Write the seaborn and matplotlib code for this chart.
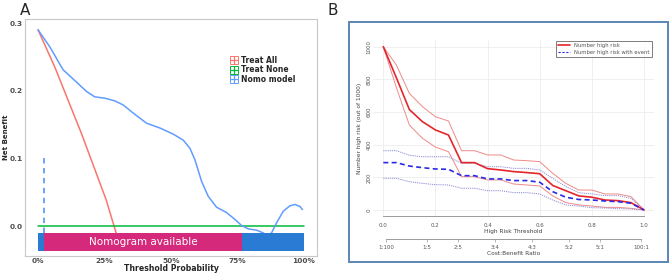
import numpy as np
import pandas as pd
import matplotlib
matplotlib.use("Agg")
import matplotlib.pyplot as plt
from matplotlib.lines import Line2D
from matplotlib.patches import Rectangle
import seaborn as sns

sns.set_style("white")
plt.rcParams["font.family"] = ["DejaVu Sans"]

# ---- Panel A: decision curve ----
nomo_x = [0, 4.4, 9.4, 14.4, 18.2, 21.3, 25.1, 28.9, 32, 35.8, 40.8, 45.8, 50.8,
          54.6, 57.1, 59, 61.5, 64, 67.1, 70.9, 74, 76.5, 79, 82.2, 84.7, 86,
          87.8, 89.7, 92.2, 94.7, 96.6, 98.5, 99.4]
nomo_y = [0.290, 0.265, 0.231, 0.213, 0.199, 0.191, 0.189, 0.185, 0.179, 0.167,
          0.152, 0.145, 0.136, 0.127, 0.115, 0.098, 0.066, 0.044, 0.028, 0.020,
          0.010, 0.001, -0.004, -0.006, -0.010, -0.014, -0.010, 0.005, 0.022,
          0.030, 0.032, 0.029, 0.0245]
all_x = [0, 6.3, 16.3, 25.6, 29.2, 29.6]
all_y = [0.290, 0.235, 0.137, 0.039, -0.008, -0.013]
none_x = [0, 100]
none_y = [0, 0]

band_y = [-0.037, -0.010]
band_x = [0, 100]
nomogram_range = [2.1, 76.8]
nomogram_text_x = 39.5
cutoff_x = 2.1
cutoff_top = 0.1

# ---- Panel B: clinical impact curve ----
thr = [0.0, 0.05, 0.1, 0.15, 0.2, 0.25, 0.3, 0.35, 0.4, 0.45, 0.5, 0.55,
       0.6, 0.65, 0.7, 0.75, 0.8, 0.85, 0.9, 0.95, 1.0]
hr_mid = [1000, 810, 615, 541, 490, 459, 290, 290, 253, 245, 235, 229, 222,
          150, 118, 86, 78, 61, 57, 45, 0]
hr_hi = [1000, 888, 714, 633, 571, 545, 363, 363, 337, 337, 306, 302, 296,
         224, 163, 122, 122, 98, 98, 82, 0]
hr_lo = [1000, 750, 520, 439, 385, 357, 204, 204, 184, 184, 159, 153, 147,
         86, 45, 31, 24, 16, 16, 10, 0]
ev_mid = [290, 290, 269, 259, 251, 249, 210, 210, 190, 190, 180, 180, 170,
          112, 78, 64, 61, 55, 51, 41, 0]
ev_hi = [363, 363, 335, 326, 326, 326, 286, 286, 265, 265, 255, 255, 245,
         194, 143, 106, 98, 88, 88, 71, 0]
ev_lo = [194, 194, 173, 163, 155, 153, 133, 133, 118, 118, 106, 106, 98,
         61, 31, 24, 14, 12, 8, 6, 0]
cb_pos = [0.01, 0.167, 0.286, 0.429, 0.571, 0.714, 0.833, 0.99]
cb_labels = ["1:100", "1:5", "2:5", "3:4", "4:3", "5:2", "5:1", "100:1"]

fig = plt.figure(figsize=(6.69, 2.74), dpi=100)

# ================= Panel A =================
c_all, c_none, c_nomo = "#F8766D", "#00BA38", "#619CFF"
axA = fig.add_axes([0.0374, 0.066, 0.4365, 0.8647])

sns.lineplot(x=all_x, y=all_y, ax=axA, color=c_all, lw=1.1, sort=False)
sns.lineplot(x=none_x, y=none_y, ax=axA, color=c_none, lw=1.1)
sns.lineplot(x=nomo_x, y=nomo_y, ax=axA, color=c_nomo, lw=1.1, sort=False)

axA.fill_between(band_x, band_y[0], band_y[1], color="#2a7bd3", lw=0, zorder=5)
axA.fill_between(nomogram_range, band_y[0], band_y[1], color="#d5297c", lw=0, zorder=6)
axA.text(nomogram_text_x, np.mean(band_y), "Nomogram available",
         color="white", fontsize=7.5, ha="center", va="center", zorder=7)
axA.plot([cutoff_x, cutoff_x], [band_y[1], cutoff_top], color=c_nomo, lw=1.3,
         ls=(0, (3, 2.5)), zorder=4)

axA.set_xlim(-4.9, 104.9)
axA.set_ylim(-0.044, 0.306)
axA.set_xticks([0, 25, 50, 75, 100])
axA.set_xticklabels(["0%", "25%", "50%", "75%", "100%"])
axA.set_yticks([0.0, 0.1, 0.2, 0.3])
axA.set_yticklabels(["0.0", "0.1", "0.2", "0.3"])
axA.tick_params(axis="both", labelsize=5.3, colors="#4d4d4d", length=1.2, width=0.5,
                pad=0.6)
for lab in axA.get_xticklabels() + axA.get_yticklabels():
    lab.set_fontweight("bold")
axA.set_xlabel("Threshold Probability", fontsize=5.6, fontweight="bold", labelpad=-0.4)
axA.set_ylabel("Net Benefit", fontsize=5, fontweight="bold", labelpad=0.5)
for sp in axA.spines.values():
    sp.set_color("#c8c8c8")
    sp.set_linewidth(0.8)

handles = []
for c in [c_all, c_none, c_nomo]:
    box = Line2D([0], [0], marker="s", markersize=6, mfc="none", mec=c, mew=0.7, ls="none")
    plus = Line2D([0], [0], marker="+", markersize=6, color=c, mew=0.9, ls="none")
    handles.append((box, plus))
axA.legend(handles, ["Treat All", "Treat None", "Nomo model"], loc="upper left",
           bbox_to_anchor=(0.69, 0.86), frameon=False, prop={"weight": "bold", "size": 5.5},
           handlelength=1.0, handletextpad=0.4, labelspacing=0.05, borderpad=0)

fig.text(0.03, 0.962, "A", fontsize=11, ha="left", va="center")
fig.text(0.49, 0.962, "B", fontsize=11, ha="left", va="center")

# ================= Panel B =================
fig.patches.append(Rectangle((0.521, 0.044), 0.477, 0.876, transform=fig.transFigure,
                             fill=False, ec="#5b87b5", lw=1.4))

axB = fig.add_axes([0.5574, 0.2099, 0.4208, 0.6434])
red, red_l = "#e3262b", "#ee8a88"
blue, blue_l = "#2a2ae6", "#8a8ad8"
sns.lineplot(x=thr, y=hr_hi, ax=axB, color=red_l, lw=0.7)
sns.lineplot(x=thr, y=hr_lo, ax=axB, color=red_l, lw=0.7)
sns.lineplot(x=thr, y=ev_hi, ax=axB, color=blue_l, lw=0.7, ls=(0, (1.2, 1)))
sns.lineplot(x=thr, y=ev_lo, ax=axB, color=blue_l, lw=0.7, ls=(0, (1.2, 1)))
sns.lineplot(x=thr, y=hr_mid, ax=axB, color=red, lw=1.2)
sns.lineplot(x=thr, y=ev_mid, ax=axB, color=blue, lw=1.2, ls=(0, (3, 2)))

axB.set_xlim(-0.04, 1.04)
axB.set_ylim(-40, 1040)
axB.set_xticks([0, 0.2, 0.4, 0.6, 0.8, 1.0])
axB.set_xticklabels(["0.0", "0.2", "0.4", "0.6", "0.8", "1.0"])
axB.set_yticks([0, 200, 400, 600, 800, 1000])
axB.set_yticklabels(["0", "200", "400", "600", "800", "1000"], rotation=90, va="center")
axB.grid(True, color="#ececec", lw=0.6)
for side in ["top", "right", "left"]:
    axB.spines[side].set_visible(False)
axB.spines["bottom"].set_bounds(0, 1)
axB.spines["bottom"].set_color("#9a9a9a")
axB.spines["bottom"].set_linewidth(0.7)
axB.tick_params(axis="x", labelsize=4, colors="#555555", length=2, width=0.5, pad=2.5,
                color="#9a9a9a")
axB.tick_params(axis="y", labelsize=4, colors="#555555", length=0, pad=1)
axB.set_xlabel("High Risk Threshold", fontsize=4.2, color="#444444", labelpad=1)
axB.set_ylabel("Number high risk (out of 1000)", fontsize=4.2, color="#444444", labelpad=3)

sec = axB.secondary_xaxis(-0.128)
sec.set_xticks(cb_pos)
sec.set_xticklabels(cb_labels)
sec.spines["bottom"].set_bounds(cb_pos[0], cb_pos[-1])
sec.spines["bottom"].set_color("#9a9a9a")
sec.spines["bottom"].set_linewidth(0.7)
sec.tick_params(axis="x", labelsize=4, colors="#555555", length=2, width=0.5, pad=2.5,
                color="#9a9a9a")
sec.set_xlabel("Cost:Benefit Ratio", fontsize=4.2, color="#444444", labelpad=0.5)

hB = [Line2D([0], [0], color=red, lw=1.2),
      Line2D([0], [0], color=blue, lw=0.8, ls=(0, (2, 1.5)))]
legB = axB.legend(hB, ["Number high risk", "Number high risk with event"],
                  loc="upper right", bbox_to_anchor=(1.0, 1.01), fontsize=3.8,
                  frameon=True, fancybox=False, edgecolor="#444444",
                  handlelength=2.2, borderpad=0.4, labelspacing=0.3)
legB.get_frame().set_linewidth(0.6)
for t in legB.get_texts():
    t.set_color("#555555")

fig.savefig("out.png", dpi=100)
